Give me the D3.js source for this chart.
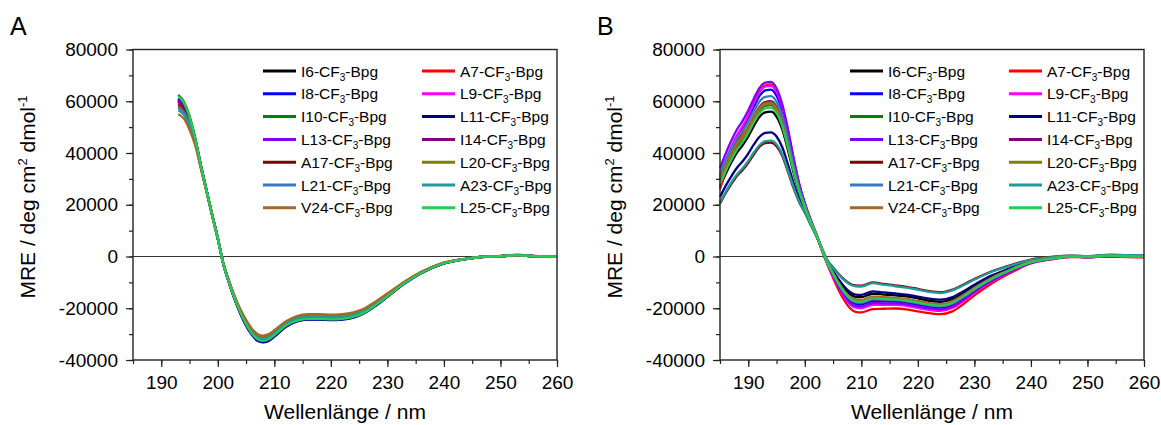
<!DOCTYPE html>
<html>
<head>
  <meta charset="utf-8">
  <title>CD-Spektren CF3-Bpg</title>
  <script src="https://d3js.org/d3.v7.min.js"></script>
  <style>
    body { margin: 0; background: #fff; }
    text { font-family: "Liberation Sans", Arial, sans-serif; fill: #000; }
    .curve { fill: none; stroke-width: 2.3px; stroke-linejoin: round; }
  </style>
</head>
<body>
<script>
  // Wellenlängen (nm)
  const wlA = [193,194,195,196,197,198,199,200,201,202,203,204,205,206,207,208,209,210,212,
               214,216,218,220,222,224,226,228,230,233,236,240,244,247,250,253,256,260];
  const wlB = [185,186,187,188,189,190,191,192,193,194,195,196,197,198,199,200,201,202,203,
               204,205,206,207,208,209,210,212,214,216,218,220,222,224,226,228,230,
               233,236,240,244,247,250,254,257,260];

  const names = ["I6","A7","I8","L9","I10","L11","L13","I14","A17","L20","L21","A23","V24","L25"];
  const colors = ["#000000","#ff0000","#0000ff","#ff00ff","#008000","#000080","#8000ff",
                  "#800080","#800000","#808000","#3b78c4","#1e9c9c","#a8672a","#22cc55"];

  // MRE in 1000 deg cm2 dmol-1, panel A
  const a_I6  = [60,57.5,52.5,45,35,25.5,16,7,-3,-10,-16.3,-21.6,-26,-29.5,-31.7,-32.4,-31.8,-30.2,-26.6,-24.5,-23.8,-23.8,-24.0,-23.8,-23.0,-21.3,-18.5,-15.2,-10.3,-6.3,-2.6,-0.9,-0.1,0.1,0.5,0.1,0];
  const a_A7  = [59,56.7,51.8,44.6,34.8,25.4,16,7,-2.9,-9.8,-16.0,-21.2,-25.5,-28.9,-31.1,-31.8,-31.2,-29.6,-26.1,-24.1,-23.4,-23.4,-23.6,-23.4,-22.6,-20.9,-18.2,-15.0,-10.1,-6.2,-2.5,-0.9,-0.1,0.2,0.7,0.2,0];
  const a_I8  = [61,58.3,53.2,45.4,35.2,25.6,16,7,-3.1,-10.3,-16.7,-22.1,-26.7,-30.2,-32.5,-33.2,-32.6,-31.0,-27.3,-25.1,-24.4,-24.4,-24.6,-24.4,-23.6,-21.8,-19.0,-15.6,-10.6,-6.5,-2.7,-0.9,-0.1,0.1,0.4,0.1,0];
  const a_L9  = [59.5,57.1,52.2,44.8,34.9,25.5,16,7,-3.0,-10.1,-16.4,-21.7,-26.2,-29.7,-31.9,-32.6,-32.0,-30.4,-26.8,-24.7,-24.0,-24.0,-24.2,-24.0,-23.2,-21.5,-18.7,-15.3,-10.4,-6.4,-2.7,-1.0,-0.2,0.1,0.5,0.1,0];
  const a_I10 = [62.5,59.8,54.3,46,35.5,25.8,16.1,7,-3.0,-10.1,-16.5,-21.9,-26.3,-29.9,-32.1,-32.8,-32.2,-30.6,-26.9,-24.8,-24.1,-24.1,-24.3,-24.1,-23.3,-21.6,-18.7,-15.4,-10.4,-6.4,-2.6,-0.9,-0.1,0.1,0.5,0.1,0];
  const a_L11 = [60.5,57.9,52.9,45.2,35.1,25.6,16,7,-3.1,-10.2,-16.7,-22.1,-26.6,-30.1,-32.4,-33.1,-32.5,-30.9,-27.2,-25.0,-24.3,-24.3,-24.5,-24.3,-23.5,-21.7,-18.9,-15.5,-10.5,-6.4,-2.7,-0.9,-0.1,0.1,0.4,0.1,0];
  const a_L13 = [60.5,57.9,52.9,45.2,35.1,25.6,16,7,-3.0,-10.1,-16.4,-21.8,-26.2,-29.8,-32.0,-32.7,-32.1,-30.5,-26.8,-24.7,-24.0,-24.0,-24.2,-24.0,-23.2,-21.5,-18.6,-15.3,-10.4,-6.4,-2.6,-0.9,-0.1,0.1,0.5,0.1,0];
  const a_I14 = [60,57.5,52.5,45,35,25.5,16,7,-3.0,-10.0,-16.3,-21.7,-26.1,-29.6,-31.8,-32.5,-31.9,-30.3,-26.7,-24.6,-23.9,-23.9,-24.1,-23.9,-23.1,-21.4,-18.6,-15.3,-10.3,-6.3,-2.6,-0.9,-0.1,0.1,0.5,0.1,0];
  const a_A17 = [58.5,56.3,51.5,44.4,34.7,25.4,16,7,-2.9,-9.7,-15.8,-21.0,-25.3,-28.7,-30.8,-31.5,-30.9,-29.4,-25.9,-23.7,-23.0,-23.0,-23.2,-23.0,-22.2,-20.6,-17.9,-14.7,-10.0,-6.1,-2.5,-0.9,-0.1,0.1,0.5,0.1,0];
  const a_L20 = [58,55.9,51.1,44.2,34.6,25.3,16,7,-2.9,-9.6,-15.7,-20.8,-25.0,-28.4,-30.5,-31.2,-30.6,-29.1,-25.6,-23.5,-22.8,-22.8,-23.0,-22.8,-22.0,-20.4,-17.7,-14.6,-9.9,-6.0,-2.5,-0.9,-0.1,0.1,0.4,0.1,0];
  const a_L21 = [57.5,55.5,50.8,44,34.5,25.3,16,7,-3.0,-9.9,-16.2,-21.5,-25.8,-29.3,-31.5,-32.2,-31.6,-30.0,-26.4,-24.3,-23.6,-23.6,-23.8,-23.6,-22.8,-21.1,-18.4,-15.1,-10.2,-6.2,-2.6,-0.9,-0.1,0.1,0.5,0.1,0];
  const a_A23 = [56.5,54.7,50.1,43.6,34.3,25.2,16,7,-3.0,-9.9,-16.1,-21.3,-25.6,-29.1,-31.2,-31.9,-31.3,-29.7,-26.2,-24.0,-23.3,-23.3,-23.5,-23.3,-22.5,-20.9,-18.1,-14.9,-10.1,-6.2,-2.5,-0.9,-0.1,0.1,0.5,0.1,0];
  const a_V24 = [55,53.3,49,43,34,25,15.9,6.9,-2.8,-9.4,-15.4,-20.4,-24.5,-27.8,-29.9,-30.6,-30.0,-28.5,-25.1,-23.0,-22.3,-22.3,-22.5,-22.3,-21.6,-20.0,-17.3,-14.3,-9.7,-5.9,-2.4,-0.8,-0.1,0.1,0.4,0.1,0];
  const a_L25 = [62,59.4,53.9,45.8,35.4,25.7,16.1,7,-3.0,-10.1,-16.4,-21.7,-26.2,-29.7,-31.9,-32.6,-32.0,-30.4,-26.8,-24.8,-24.1,-24.1,-24.3,-24.1,-23.3,-21.6,-18.7,-15.4,-10.4,-6.4,-2.6,-0.9,-0.1,0.1,0.5,0.1,0];

  // MRE in 1000 deg cm2 dmol-1, panel B
  const b_I6  = [27,31.9,36.3,40.1,43.0,46.4,50.5,54.0,55.7,56,54.1,49.2,41.3,32.5,24.7,18.9,13.4,8.5,3.0,-2.2,-6.0,-9.5,-12.4,-14.6,-15.6,-15.7,-14.4,-14.7,-15.0,-15.4,-16.2,-17.1,-17.5,-16.5,-14.2,-11.5,-7.9,-5.0,-1.9,-0.5,0.1,-0.1,0.4,0.2,0.1];
  const b_A7  = [26,32.9,39.0,44.2,48.3,53.1,58.8,63.7,66.1,66.5,64.0,58.1,48.7,37.8,27.9,20.4,14.3,8.8,2.6,-3.0,-8.2,-13.0,-17.0,-20.0,-21.4,-21.6,-20.3,-20.2,-20.1,-20.4,-21.2,-21.9,-22.3,-21.3,-18.5,-15.0,-10.5,-6.8,-2.7,-1.0,-0.2,-0.3,0,-0.2,-0.3];
  const b_I8  = [30,35.9,41.0,45.5,49.0,53.1,57.9,62.1,64.2,64.5,62.1,56.4,47.3,36.8,27.3,20.1,14.1,8.7,2.9,-2.6,-7.0,-11.1,-14.6,-17.2,-18.3,-18.5,-17.2,-17.3,-17.4,-17.8,-18.6,-19.4,-19.8,-18.8,-16.2,-13.1,-9.1,-5.9,-2.3,-0.8,0,-0.2,0.2,0,-0.1];
  const b_L9  = [31,37.0,42.2,46.8,50.3,54.5,59.4,63.6,65.7,66,63.6,57.7,48.3,37.5,27.7,20.4,14.2,8.8,2.8,-2.8,-7.6,-12.0,-15.8,-18.5,-19.8,-20.0,-18.7,-18.7,-18.7,-19.1,-19.9,-20.6,-21.0,-20.0,-17.3,-14.0,-9.8,-6.3,-2.5,-0.9,-0.1,-0.2,0.1,-0.1,-0.2];
  const b_I10 = [29,34.0,38.4,42.3,45.2,48.8,52.9,56.4,58.2,58.5,56.4,51.3,43.1,33.8,25.5,19.2,13.6,8.5,3.0,-2.4,-6.5,-10.4,-13.6,-16.0,-17.0,-17.2,-15.9,-16.1,-16.3,-16.7,-17.5,-18.3,-18.7,-17.7,-15.3,-12.4,-8.5,-5.5,-2.1,-0.7,0,-0.1,0.3,0.1,0];
  const b_L11 = [23,27.3,31.0,34.3,36.8,39.8,43.3,46.3,47.8,48,46.4,42.3,35.7,28.5,22.3,17.6,12.8,8.2,3.1,-2.1,-5.6,-8.9,-11.7,-13.7,-14.7,-14.8,-13.5,-13.9,-14.3,-14.7,-15.5,-16.3,-16.7,-15.8,-13.5,-10.9,-7.4,-4.8,-1.8,-0.5,0.1,0,0.5,0.3,0.2];
  const b_L13 = [34,39.7,44.7,49.1,52.4,56.4,61.1,65.2,67.2,67.5,65.0,58.9,49.4,38.3,28.2,20.6,14.3,8.8,2.7,-2.7,-7.3,-11.6,-15.2,-17.9,-19.1,-19.3,-18.0,-18.1,-18.1,-18.5,-19.3,-20.0,-20.4,-19.4,-16.8,-13.6,-9.5,-6.1,-2.4,-0.8,-0.1,-0.2,0.2,0,-0.1];
  const b_I14 = [30,35.1,39.6,43.5,46.5,50.1,54.3,57.9,59.7,60,57.9,52.6,44.1,34.5,25.9,19.5,13.7,8.6,3.0,-2.5,-6.8,-10.8,-14.2,-16.7,-17.8,-18.0,-16.7,-16.9,-17.0,-17.4,-18.2,-19.0,-19.4,-18.4,-15.9,-12.8,-8.9,-5.7,-2.2,-0.7,0,-0.2,0.3,0.1,0];
  const b_A17 = [20.5,24.5,28.0,31.1,33.4,36.2,39.5,42.4,43.8,44,42.6,38.9,32.9,26.5,21.1,17.0,12.5,8.1,3.2,-1.5,-4.2,-6.8,-8.9,-10.5,-11.2,-11.3,-10.0,-10.6,-11.2,-11.7,-12.5,-13.4,-13.8,-12.9,-10.9,-8.7,-5.8,-3.6,-1.2,-0.1,0.3,0.1,0.6,0.4,0.3];
  const b_L20 = [31,35.8,40.1,43.8,46.7,50.1,54.1,57.5,59.2,59.5,57.4,52.1,43.8,34.3,25.8,19.4,13.7,8.6,3.0,-2.4,-6.6,-10.5,-13.7,-16.1,-17.2,-17.4,-16.1,-16.3,-16.5,-16.9,-17.7,-18.5,-18.9,-17.9,-15.4,-12.5,-8.6,-5.5,-2.1,-0.7,0,-0.1,0.3,0.1,0];
  const b_L21 = [32,37.1,41.6,45.5,48.5,52.1,56.3,59.9,61.7,62,59.8,54.3,45.5,35.5,26.5,19.8,13.9,8.7,2.9,-2.5,-6.8,-10.7,-14.0,-16.5,-17.6,-17.8,-16.5,-16.7,-16.8,-17.2,-18.0,-18.8,-19.2,-18.2,-15.7,-12.7,-8.8,-5.7,-2.2,-0.7,0,-0.1,0.3,0.1,0];
  const b_A23 = [21,25.0,28.6,31.7,34.1,36.9,40.3,43.1,44.6,44.8,43.4,39.6,33.5,26.9,21.3,17.2,12.5,8.1,3.3,-1.6,-4.4,-7.0,-9.2,-10.8,-11.5,-11.6,-10.3,-10.9,-11.5,-12.0,-12.8,-13.7,-14.1,-13.2,-11.2,-9.0,-6.0,-3.8,-1.3,-0.2,0.3,0.1,0.7,0.5,0.4];
  const b_V24 = [30,34.9,39.3,43.1,46.0,49.4,53.5,57.0,58.7,59,56.9,51.7,43.4,34.0,25.6,19.3,13.7,8.6,3.0,-2.3,-6.4,-10.1,-13.3,-15.6,-16.6,-16.8,-15.5,-15.7,-16.0,-16.4,-17.2,-18.0,-18.4,-17.4,-15.0,-12.1,-8.3,-5.4,-2.0,-0.6,0,-0.1,0.3,0.1,0];
  const b_L25 = [28,33.0,37.4,41.3,44.2,47.8,51.9,55.4,57.2,57.5,55.5,50.4,42.4,33.3,25.2,19.1,13.5,8.5,3.0,-2.4,-6.6,-10.6,-13.8,-16.2,-17.3,-17.5,-16.2,-16.4,-16.6,-17.0,-17.8,-18.6,-19.0,-18.0,-15.5,-12.6,-8.7,-5.6,-2.2,-0.7,0,-0.1,0.3,0.1,0];

  const seriesA = [a_I6,a_A7,a_I8,a_L9,a_I10,a_L11,a_L13,a_I14,a_A17,a_L20,a_L21,a_A23,a_V24,a_L25];
  const seriesB = [b_I6,b_A7,b_I8,b_L9,b_I10,b_L11,b_L13,b_I14,b_A17,b_L20,b_L21,b_A23,b_V24,b_L25];

  const xTicks = d3.range(190, 261, 10);
  const yTicks = [-40, -20, 0, 20, 40, 60, 80];

  const W = 1161, H = 425;
  const svg = d3.select("body").append("svg")
      .attr("width", W)
      .attr("height", H);

  function panel(letter, left, wl, series) {
    const right = left + 424, top = 49.5, bottom = 360;
    const x = d3.scaleLinear().domain([185, 260]).range([left, right]);
    const y = d3.scaleLinear().domain([-40, 80]).range([bottom, top]);
    const g = svg.append("g");

    // panel letter
    g.append("text").attr("x", left - 123).attr("y", 35)
      .style("font-size", "25px").text(letter);

    // zero line
    g.append("line")
      .attr("x1", left).attr("x2", right)
      .attr("y1", y(0)).attr("y2", y(0))
      .attr("stroke", "#333").attr("stroke-width", 1.2);

    // curves
    const line = d3.line()
      .x((d, i) => x(wl[i]))
      .y(d => y(d))
      .curve(d3.curveMonotoneX);
    series.forEach((s, i) => {
      g.append("path")
        .attr("class", "curve")
        .attr("stroke", colors[i])
        .attr("d", line(s));
    });

    // minor ticks
    g.append("g").attr("transform", `translate(0,${bottom})`)
      .call(d3.axisBottom(x).tickValues(d3.range(185, 261, 5)).tickSize(4).tickFormat(""))
      .call(a => a.select(".domain").remove());
    g.append("g").attr("transform", `translate(${left},0)`)
      .call(d3.axisLeft(y).tickValues(d3.range(-40, 81, 10)).tickSize(4).tickFormat(""))
      .call(a => a.select(".domain").remove());

    // major ticks with labels
    const xa = g.append("g").attr("transform", `translate(0,${bottom})`)
      .call(d3.axisBottom(x).tickValues(xTicks).tickSize(7).tickPadding(9).tickFormat(d3.format("d")));
    const ya = g.append("g").attr("transform", `translate(${left},0)`)
      .call(d3.axisLeft(y).tickValues(yTicks).tickSize(7).tickPadding(8).tickFormat(d => String(d * 1000)));
    [xa, ya].forEach(a => {
      a.selectAll("text").style("font-size", "19px").attr("fill", "#111")
        .style("font-family", '"Liberation Sans", Arial, sans-serif');
      a.select(".domain").remove();
    });
    g.selectAll(".tick line").attr("stroke", "#222").attr("stroke-width", 1.2);

    // frame
    g.append("rect")
      .attr("x", left).attr("y", top)
      .attr("width", right - left).attr("height", bottom - top)
      .attr("fill", "none").attr("stroke", "#222").attr("stroke-width", 1.4);

    // axis titles
    g.append("text")
      .attr("x", (left + right) / 2).attr("y", 419)
      .attr("text-anchor", "middle")
      .style("font-size", "21px")
      .text("Wellenlänge / nm");

    const yt = g.append("text")
      .attr("transform", `translate(${left - 98},197) rotate(-90)`)
      .attr("text-anchor", "middle")
      .style("font-size", "21px");
    yt.append("tspan").text("MRE / deg cm");
    yt.append("tspan").attr("dy", -8).style("font-size", "13px").text("2");
    yt.append("tspan").attr("dy", 8).text(" dmol");
    yt.append("tspan").attr("dy", -8).style("font-size", "13px").text("-1");

    // legend
    names.forEach((n, i) => {
      const col = i % 2, row = Math.floor(i / 2);
      const lx = left + 130 + col * 159;
      const ly = 71 + row * 22.8;
      g.append("line")
        .attr("x1", lx).attr("x2", lx + 33)
        .attr("y1", ly).attr("y2", ly)
        .attr("stroke", colors[i]).attr("stroke-width", 3);
      const t = g.append("text")
        .attr("x", lx + 38).attr("y", ly + 5.5)
        .style("font-size", "15.5px");
      t.append("tspan").text(n + "-CF");
      t.append("tspan").attr("dy", 4).style("font-size", "10px").text("3");
      t.append("tspan").attr("dy", -4).text("-Bpg");
    });
  }

  panel("A", 133, wlA, seriesA);
  panel("B", 720, wlB, seriesB);
</script>
</body>
</html>
